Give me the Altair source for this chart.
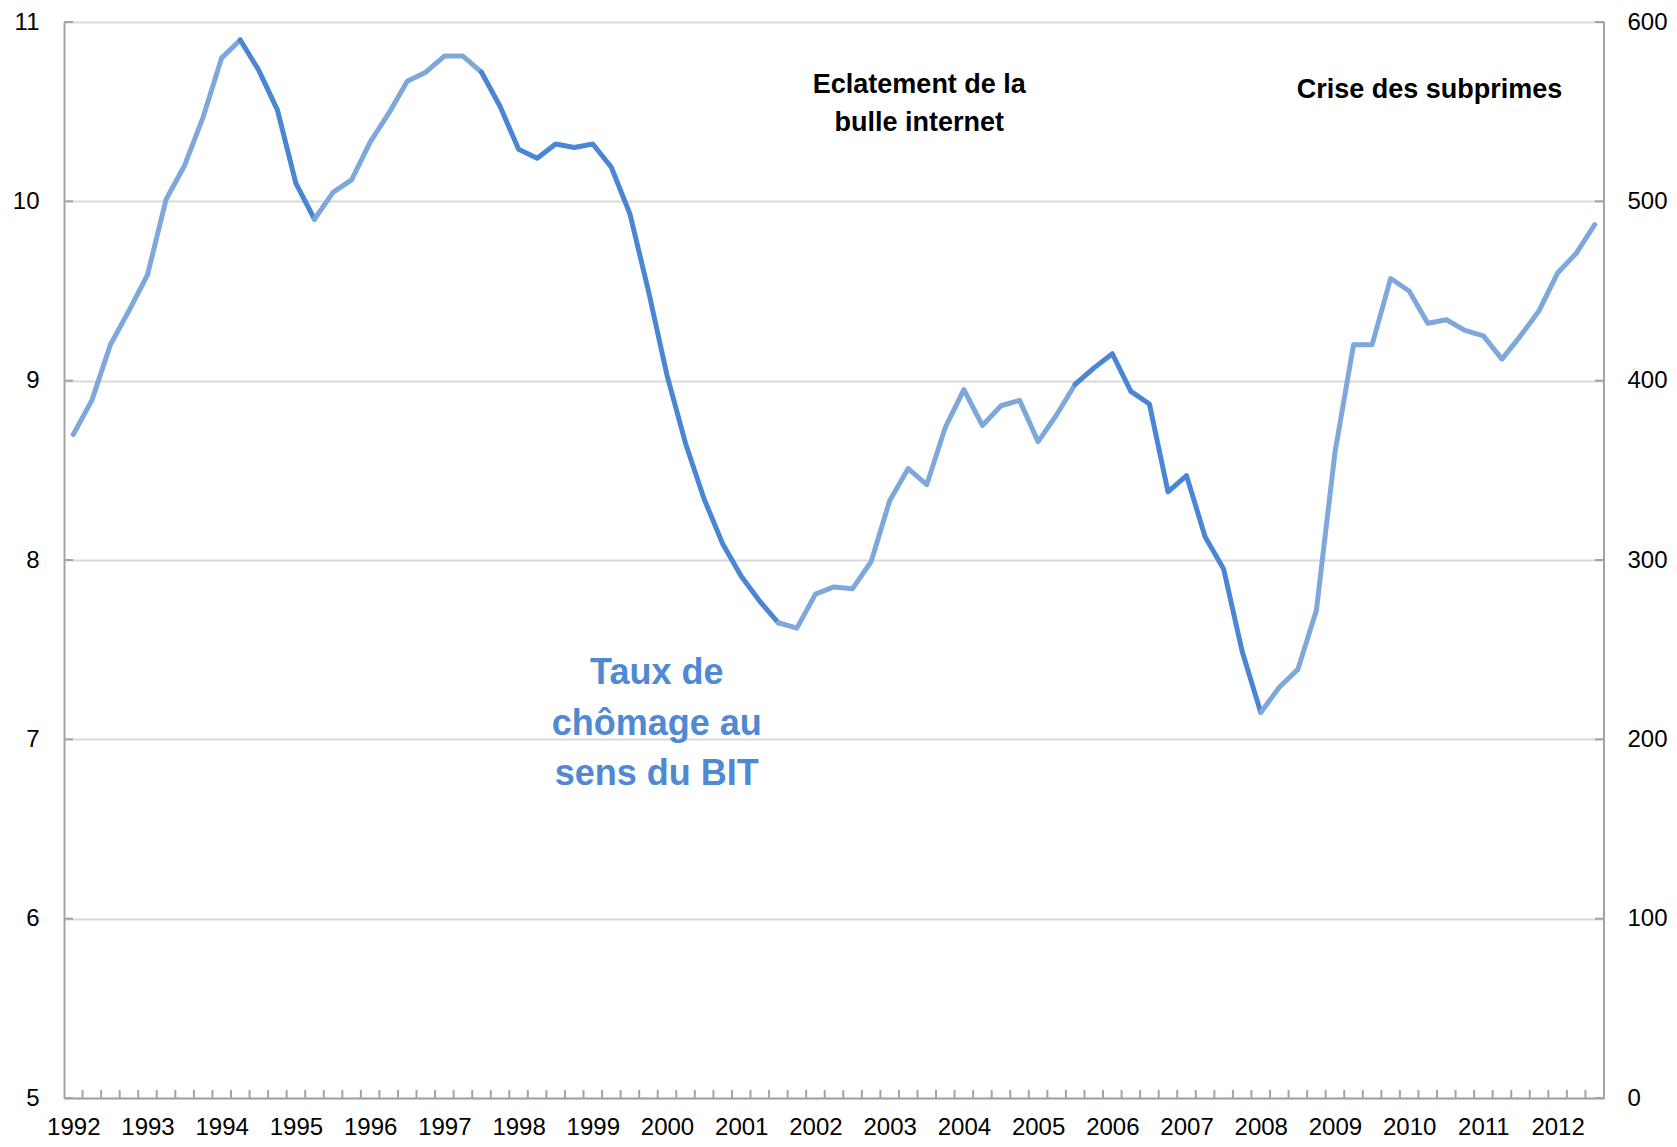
import altair as alt
import pandas as pd

# ---------------- data ----------------
first_year = 1992
years = list(range(1992, 2013))
# Taux de chômage au sens du BIT, trimestriel 1992T1 .. 2012T3
taux = [8.70, 8.89, 9.20, 9.39, 9.59, 10.01, 10.20, 10.47,
        10.80, 10.90, 10.73, 10.51, 10.10, 9.90, 10.05, 10.12,
        10.33, 10.49, 10.67, 10.72, 10.81, 10.81, 10.72, 10.53,
        10.29, 10.24, 10.32, 10.30, 10.32, 10.19, 9.93, 9.50,
        9.03, 8.65, 8.34, 8.09, 7.91, 7.77, 7.65, 7.62,
        7.81, 7.85, 7.84, 7.99, 8.33, 8.51, 8.42, 8.74,
        8.95, 8.75, 8.86, 8.89, 8.66, 8.81, 8.98, 9.07,
        9.15, 8.94, 8.87, 8.38, 8.47, 8.13, 7.95, 7.49,
        7.15, 7.29, 7.39, 7.72, 8.60, 9.20, 9.20, 9.57,
        9.50, 9.32, 9.34, 9.28, 9.25, 9.12, 9.25, 9.39,
        9.60, 9.71, 9.87]
# phases drawn in the darker blue (quarter indices, start..end)
dark_start = [9, 22, 54]
dark_end = [13, 38, 64]

left_ticks = [5, 6, 7, 8, 9, 10, 11]
right_ticks = [0, 100, 200, 300, 400, 500, 600]

W, H = 1540, 1076
DARK = "#4A86D3"
LIGHT = "#7EA8DC"
GRID = "#D9D9D9"
AXIS = "#A3A3A3"
FONT = "Liberation Sans"
n = len(taux)


def tone_of(i):
    return "dark" if any(s <= i < e for s, e in zip(dark_start, dark_end)) else "light"


rows = []
run = 0
prev = None
for i in range(n - 1):
    t = tone_of(i)
    if t != prev:
        run += 1
        rows.append({"run": run, "q": i, "v": taux[i], "tone": t})
    rows.append({"run": run, "q": i + 1, "v": taux[i + 1], "tone": t})
    prev = t
line_df = pd.DataFrame(rows)

xscale = alt.Scale(domain=[-0.5, n - 0.5], nice=False, zero=False)
yscale = alt.Scale(domain=[5, 11], nice=False, zero=False)

x_axis = alt.Axis(
    values=[4 * k for k in range(len(years))],
    labelExpr=f"'' + ({first_year} + datum.value / 4)",
    ticks=False, tickSize=0, grid=False,
    domainColor=AXIS, domainWidth=2,
    labelFont=FONT, labelFontSize=24, labelColor="black",
    labelBaseline="alphabetic",
    labelPadding=36, labelFlush=False, labelOverlap=False, title=None,
)
y_axis = alt.Axis(
    values=left_ticks, ticks=False, tickSize=0, grid=True,
    gridColor=GRID, gridWidth=2,
    domainColor=AXIS, domainWidth=2,
    labelFont=FONT, labelFontSize=24, labelColor="black",
    labelPadding=25, title=None,
)


def X(field):
    return alt.X(field, scale=xscale, axis=x_axis)


def Y(field):
    return alt.Y(field, scale=yscale, axis=y_axis)


line = alt.Chart(line_df).mark_line(
    strokeWidth=5, strokeJoin="round", strokeCap="round"
).encode(
    x=X("q:Q"),
    y=Y("v:Q"),
    color=alt.Color("tone:N", scale=alt.Scale(domain=["light", "dark"], range=[LIGHT, DARK]), legend=None),
    detail="run:N",
    order="q:Q",
)

# inward tick marks on the category axis (between quarters)
xt_df = pd.DataFrame({"q": [i + 0.5 for i in range(n - 1)]})
xticks = alt.Chart(xt_df).mark_rule(color=AXIS, strokeWidth=2).encode(
    x=X("q:Q"),
    y=alt.value(H), y2=alt.value(H - 8),
)

yt_df = pd.DataFrame({"t": left_ticks})
yticks_l = alt.Chart(yt_df).mark_rule(color=AXIS, strokeWidth=2).encode(
    y=Y("t:Q"),
    x=alt.value(0), x2=alt.value(9),
)
yticks_r = alt.Chart(yt_df).mark_rule(color=AXIS, strokeWidth=2).encode(
    y=Y("t:Q"),
    x=alt.value(W - 9), x2=alt.value(W),
)
right_line = alt.Chart(yt_df).mark_rule(color=AXIS, strokeWidth=2).encode(
    x=alt.value(W), y=alt.value(0), y2=alt.value(H),
)

ann_df = pd.DataFrame({
    "txt": ["Eclatement de la", "bulle internet", "Crise des subprimes"],
    "q": [45.6, 45.6, 73.1],
    "v": [10.603, 10.390, 10.578],
})
ann = alt.Chart(ann_df).mark_text(
    font=FONT, fontSize=27, fontWeight="bold", color="black",
    align="center", baseline="alphabetic",
).encode(
    x=X("q:Q"),
    y=Y("v:Q"),
    text="txt:N",
)

lab_df = pd.DataFrame({
    "txt": ["Taux de", "chômage au", "sens du BIT"],
    "q": [31.45, 31.45, 31.45],
    "v": [7.310, 7.026, 6.745],
})
lab = alt.Chart(lab_df).mark_text(
    font=FONT, fontSize=36, fontWeight="bold", color="#5089D3",
    align="center", baseline="alphabetic",
).encode(
    x=X("q:Q"),
    y=Y("v:Q"),
    text="txt:N",
)

left = alt.layer(line, xticks, yticks_l, yticks_r, right_line, ann, lab)

r_df = pd.DataFrame({"r": right_ticks})
right = alt.Chart(r_df).mark_point(opacity=0).encode(
    y=alt.Y("r:Q", scale=alt.Scale(domain=[0, 600], nice=False, zero=False),
            axis=alt.Axis(orient="right", values=right_ticks, ticks=False, tickSize=0,
                          grid=False, domain=False,
                          labelFont=FONT, labelFontSize=24, labelColor="black",
                          labelPadding=23, title=None)),
)

chart = alt.layer(left, right).resolve_scale(y="independent").properties(
    width=W, height=H,
    autosize=alt.AutoSizeParams(type="none"),
    padding={"left": 56, "top": 14, "right": 65, "bottom": 41},
).configure_view(stroke=None).configure(background="white")

chart.save("out.html", embed_options={"renderer": "svg", "actions": False})
